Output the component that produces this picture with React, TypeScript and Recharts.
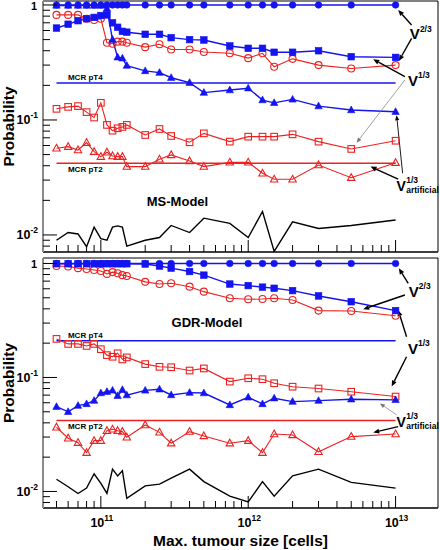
import React from 'react';
import { LineChart, Line, XAxis, YAxis, ReferenceLine, ReferenceDot, ReferenceArea } from 'recharts';

// ---------- data ----------
const tumourSizes = [5e10, 6e10, 7e10, 8e10, 9e10, 1e11, 1.1e11, 1.2e11, 1.3e11, 1.4e11, 1.5e11, 2e11, 2.5e11, 3e11, 4e11, 5e11, 7.5e11, 1e12, 1.25e12, 1.5e12, 2e12, 3e12, 5e12, 1e13];

// MS-Model
const msV23pT4 = [1, 1, 1, 1, 1, 1, 1, 1, 1, 1, 1, 1, 1, 1, 1, 1, 1, 1, 1, 1, 1, 1, 1, 1];
const msV23pT2 = [0.82, 0.82, 0.82, 0.76, 0.74, 0.76, 0.47, 0.46, 0.48, 0.48, 0.47, 0.43, 0.455, 0.41, 0.41, 0.39, 0.38, 0.345, 0.38, 0.29, 0.34, 0.3, 0.28, 0.3];
const msV13pT4 = [0.63, 0.68, 0.73, 0.76, 0.78, 0.81, 0.82, 0.7, 0.64, 0.59, 0.58, 0.556, 0.556, 0.52, 0.5, 0.496, 0.44, 0.42, 0.42, 0.388, 0.388, 0.4, 0.355, 0.35];
const msV13pT2 = [0.125, 0.13, 0.132, 0.117, 0.105, 0.141, 0.0906, 0.0807, 0.0847, 0.087, 0.0906, 0.074, 0.0835, 0.0726, 0.064, 0.0765, 0.0648, 0.0716, 0.0716, 0.0716, 0.075, 0.0648, 0.056, 0.066];
const msArtPT4 = [0.99, 0.99, 0.99, 0.99, 0.99, 0.99, 0.93, 0.5, 0.351, 0.344, 0.297, 0.267, 0.258, 0.233, 0.211, 0.173, 0.182, 0.189, 0.149, 0.141, 0.151, 0.132, 0.122, 0.118];
const msArtPT2 = [0.0567, 0.0586, 0.0548, 0.0635, 0.053, 0.048, 0.0524, 0.0486, 0.048, 0.048, 0.0393, 0.0393, 0.0455, 0.0497, 0.044, 0.0393, 0.0428, 0.0428, 0.0344, 0.0305, 0.0305, 0.0406, 0.0315, 0.0425];
const msBlack = [0.009, 0.0105, 0.0102, 0.0079, 0.0117, 0.0093, 0.009, 0.0117, 0.012, 0.0117, 0.008, 0.009, 0.0095, 0.0121, 0.0105, 0.014, 0.0126, 0.0095, 0.016, 0.0072, 0.013, 0.0114, 0.0121, 0.0135];

// GDR-Model
const gdrV23pT4 = [1, 1, 1, 1, 1, 1, 1, 1, 1, 1, 1, 1, 1, 1, 1, 1, 1, 1, 1, 1, 1, 1, 1, 1];
const gdrV23pT2 = [0.95, 0.94, 0.91, 0.895, 0.877, 0.86, 0.81, 0.84, 0.82, 0.79, 0.777, 0.69, 0.66, 0.67, 0.626, 0.566, 0.495, 0.485, 0.488, 0.495, 0.478, 0.386, 0.383, 0.348];
const gdrV13pT4 = [0.995, 0.995, 0.995, 0.995, 0.995, 0.995, 0.995, 0.995, 0.995, 0.995, 0.995, 0.99, 0.95, 0.91, 0.85, 0.79, 0.66, 0.64, 0.62, 0.606, 0.578, 0.519, 0.462, 0.386];
const gdrV13pT2 = [0.218, 0.197, 0.197, 0.189, 0.197, 0.177, 0.157, 0.152, 0.163, 0.144, 0.15, 0.131, 0.124, 0.123, 0.115, 0.12, 0.092, 0.0984, 0.0966, 0.089, 0.083, 0.08, 0.075, 0.068];
const gdrArtPT4 = [0.0554, 0.05, 0.0566, 0.0586, 0.0626, 0.073, 0.075, 0.077, 0.069, 0.078, 0.07, 0.077, 0.0788, 0.0702, 0.0736, 0.073, 0.0574, 0.067, 0.0586, 0.0658, 0.0614, 0.0626, 0.0644, 0.0636];
const gdrArtPT2 = [0.0366, 0.0293, 0.0268, 0.0219, 0.0279, 0.0279, 0.0341, 0.0351, 0.0341, 0.0335, 0.0299, 0.0383, 0.033, 0.0265, 0.0335, 0.0307, 0.0265, 0.0279, 0.0219, 0.0319, 0.0313, 0.0223, 0.0303, 0.0319];
const gdrBlack = [0.0128, 0.011, 0.0096, 0.0107, 0.0143, 0.0118, 0.0096, 0.0157, 0.0137, 0.0152, 0.0087, 0.0112, 0.0116, 0.0131, 0.0157, 0.0122, 0.0091, 0.0081, 0.0122, 0.0091, 0.0137, 0.0157, 0.012, 0.0107];

// MCR reference levels and their x-extent
const mcrPT4 = 0.21;
const mcrPT2 = 0.042;
const mcrRange = [5e10, 1e13];

// axes
const xDomain = [4.05e10, 1.94e13];
const topYDomain = [0.00711, 1.083];
const botYDomain = [0.00716, 1.117];
const xTicks = [5e10, 6e10, 7e10, 8e10, 9e10, 1e11, 2e11, 3e11, 4e11, 5e11, 6e11, 7e11, 8e11, 9e11, 1e12, 2e12, 3e12, 4e12, 5e12, 6e12, 7e12, 8e12, 9e12, 1e13];
const yTicks = [0.008, 0.009, 0.01, 0.02, 0.03, 0.04, 0.05, 0.06, 0.07, 0.08, 0.09, 0.1, 0.2, 0.3, 0.4, 0.5, 0.6, 0.7, 0.8, 0.9, 1];

const yTitle = 'Probability';
const xTitle = 'Max. tumour size [cells]';

// ---------- styling ----------
const FONT = '"Liberation Sans", Arial, Helvetica, sans-serif';
const BLUE = '#1414f0';
const RED = '#ec2222';
const GRAY_AXIS = '#8a8a8a';

const isDecade = (v: number) => Math.abs(Math.log10(v) - Math.round(Math.log10(v))) < 1e-6;

const buildRows = (c4: number[], c2: number[], s4: number[], s2: number[], t4: number[], t2: number[], k: number[]) =>
  tumourSizes.map((x, i) => ({ x, c4: c4[i], c2: c2[i], s4: s4[i], s2: s2[i], t4: t4[i], t2: t2[i], k: k[i] }));

const msRows = buildRows(msV23pT4, msV23pT2, msV13pT4, msV13pT2, msArtPT4, msArtPT2, msBlack);
const gdrRows = buildRows(gdrV23pT4, gdrV23pT2, gdrV13pT4, gdrV13pT2, gdrArtPT4, gdrArtPT2, gdrBlack);

function markerRenderer(kind: 'circle' | 'square' | 'triangle', color: string, filled: boolean) {
  return (p: any) => {
    const { cx, cy, index } = p;
    const key = `m-${kind}-${color}-${filled}-${index}`;
    if (typeof cx !== 'number' || typeof cy !== 'number' || isNaN(cx) || isNaN(cy)) return <g key={key} />;
    const fill = filled ? color : 'none';
    const sw = filled ? 0.6 : 1.1;
    if (kind === 'circle') {
      return <circle key={key} cx={cx} cy={cy} r={filled ? 3.3 : 3.5} fill={fill} stroke={color} strokeWidth={sw} />;
    }
    if (kind === 'square') {
      const h = 3.3;
      return <rect key={key} x={cx - h} y={cy - h} width={2 * h} height={2 * h} fill={fill} stroke={color} strokeWidth={sw} />;
    }
    const w = 3.7;
    const up = 4.0;
    const dn = 2.7;
    return (
      <polygon
        key={key}
        points={`${cx},${cy - up} ${cx + w},${cy + dn} ${cx - w},${cy + dn}`}
        fill={fill}
        stroke={color}
        strokeWidth={sw}
        strokeLinejoin="miter"
      />
    );
  };
}

function arrowShape(color: string, width: number, head: number) {
  return (p: any) => {
    const { x1, y1, x2, y2 } = p;
    if ([x1, y1, x2, y2].some((v) => typeof v !== 'number' || isNaN(v))) return <g />;
    const a = Math.atan2(y2 - y1, x2 - x1);
    const bx = x2 - head * Math.cos(a);
    const by = y2 - head * Math.sin(a);
    const w = head * 0.42;
    const px = -Math.sin(a) * w;
    const py = Math.cos(a) * w;
    return (
      <g>
        <line x1={x1} y1={y1} x2={bx} y2={by} stroke={color} strokeWidth={width} />
        <polygon points={`${x2},${y2} ${bx + px},${by + py} ${bx - px},${by - py}`} fill={color} />
      </g>
    );
  };
}

function vLabel(exp: string, sub?: string) {
  return (p: any) => {
    const { cx, cy } = p;
    if (typeof cx !== 'number' || typeof cy !== 'number') return <g />;
    if (sub) {
      return (
        <text x={cx} y={cy} fontFamily={FONT} fontWeight="bold" fill="#000">
          <tspan fontSize={14}>V</tspan>
          <tspan x={cx + 9.6} dy={-8} fontSize={8.5}>{exp}</tspan>
          <tspan x={cx + 9.6} dy={10.8} fontSize={8.5}>{sub}</tspan>
        </text>
      );
    }
    return (
      <text x={cx} y={cy} fontFamily={FONT} fontWeight="bold" fill="#000">
        <tspan fontSize={15}>V</tspan>
        <tspan dy={-7.5} fontSize={8.5}>{exp}</tspan>
      </text>
    );
  };
}

function plainLabel(text: string, size: number) {
  return (p: any) => {
    const { cx, cy } = p;
    if (typeof cx !== 'number' || typeof cy !== 'number') return <g />;
    return (
      <text x={cx} y={cy} fontFamily={FONT} fontWeight="bold" fontSize={size} fill="#000">
        {text}
      </text>
    );
  };
}

function XTick(props: any) {
  const { x, y, payload, showLabel } = props;
  const v = payload && payload.value;
  if (typeof v !== 'number') return <g />;
  const major = isDecade(v);
  const len = major ? 12 : 7;
  const exp = Math.round(Math.log10(v));
  return (
    <g>
      <line x1={x} x2={x} y1={y} y2={y - len} stroke="#000" strokeWidth={1} />
      {showLabel && major ? (
        <text x={x + 1} y={y + 19} textAnchor="middle" fontFamily={FONT} fontWeight="bold" fontSize={12.5} fill="#000">
          10
          <tspan dy={-6} fontSize={8.5}>{exp}</tspan>
        </text>
      ) : null}
    </g>
  );
}

function YTick(props: any) {
  const { x, y, payload } = props;
  const v = payload && payload.value;
  if (typeof v !== 'number') return <g />;
  const major = isDecade(v);
  const len = major ? 14 : 7;
  const exp = Math.round(Math.log10(v));
  let label: React.ReactNode = null;
  if (major) {
    label =
      exp === 0 ? (
        <text x={x - 6} y={y + 4.6} textAnchor="end" fontFamily={FONT} fontWeight="bold" fontSize={11} fill="#000">
          1
        </text>
      ) : (
        <text x={x - 5} y={y + 4.5} textAnchor="end" fontFamily={FONT} fontWeight="bold" fontSize={12.5} fill="#000">
          10
          <tspan dy={-6} fontSize={8.5}>{'-' + Math.abs(exp)}</tspan>
        </text>
      );
  }
  return (
    <g>
      <line x1={x} x2={x + len} y1={y} y2={y} stroke="#000" strokeWidth={1} />
      {label}
    </g>
  );
}

function YTitle(props: any) {
  const vb = props.viewBox || {};
  const cy = (vb.y || 0) + (vb.height || 0) / 2;
  return (
    <text
      transform={`translate(13.5, ${cy}) rotate(-90)`}
      textAnchor="middle"
      fontFamily={FONT}
      fontWeight="bold"
      fontSize={15.5}
      fill="#000"
    >
      {yTitle}
    </text>
  );
}

function XTitle(props: any) {
  const vb = props.viewBox || {};
  const cx = (vb.x || 0) + (vb.width || 0) / 2;
  return (
    <text x={cx} y={(vb.y || 0) + 37.5} textAnchor="middle" fontFamily={FONT} fontWeight="bold" fontSize={15.5} fill="#000">
      {xTitle}
    </text>
  );
}

type Arrow = { from: [number, number]; to: [number, number]; color: string; width: number; head: number };
type Note = { x: number; y: number; render: (p: any) => React.ReactElement };

// annotations (data coordinates)
const msArrows: Arrow[] = [
  { from: [1.284e13, 0.67], to: [1.041e13, 0.905], color: '#000', width: 1.4, head: 6 },
  { from: [1.284e13, 0.513], to: [1.052e13, 0.326], color: '#000', width: 1.4, head: 6 },
  { from: [1.156e13, 0.238], to: [7.05e12, 0.337], color: '#000', width: 1.4, head: 6 },
  { from: [1.156e13, 0.223], to: [5.44e12, 0.0634], color: '#777', width: 0.7, head: 5 },
  { from: [1.116e13, 0.0344], to: [1.016e13, 0.11], color: '#000', width: 0.9, head: 5 },
  { from: [1.041e13, 0.0306], to: [6.76e12, 0.0393], color: '#000', width: 1.4, head: 6 },
];
const gdrArrows: Arrow[] = [
  { from: [1.218e13, 0.67], to: [1.052e13, 0.908], color: '#000', width: 1.4, head: 6 },
  { from: [1.156e13, 0.529], to: [6.03e12, 0.397], color: '#000', width: 1.4, head: 6 },
  { from: [1.187e13, 0.228], to: [1.041e13, 0.391], color: '#000', width: 1.4, head: 6 },
  { from: [1.187e13, 0.152], to: [9.4e12, 0.0833], color: '#000', width: 1.4, head: 6 },
  { from: [1.016e13, 0.047], to: [7.83e12, 0.0592], color: '#777', width: 0.7, head: 5 },
  { from: [1.041e13, 0.037], to: [7.05e12, 0.0329], color: '#000', width: 1.4, head: 6 },
];
const msNotes: Note[] = [
  { x: 5.98e10, y: 0.223, render: plainLabel('MCR pT4', 8) },
  { x: 5.98e10, y: 0.0355, render: plainLabel('MCR pT2', 8) },
  { x: 2.05e11, y: 0.0179, render: plainLabel('MS-Model', 13) },
  { x: 1.25e13, y: 0.501, render: vLabel('2/3') },
  { x: 1.212e13, y: 0.1976, render: vLabel('1/3') },
  { x: 1.016e13, y: 0.0243, render: vLabel('1/3', 'artificial') },
];
const gdrNotes: Note[] = [
  { x: 5.98e10, y: 0.222, render: plainLabel('MCR pT4', 8) },
  { x: 5.98e10, y: 0.0353, render: plainLabel('MCR pT2', 8) },
  { x: 3.02e11, y: 0.2773, render: plainLabel('GDR-Model', 13) },
  { x: 1.23e13, y: 0.5114, render: vLabel('2/3') },
  { x: 1.212e13, y: 0.1607, render: vLabel('1/3') },
  { x: 1.016e13, y: 0.037, render: vLabel('1/3', 'artificial') },
];

type PanelProps = {
  rows: any[];
  yDomain: number[];
  height: number;
  marginTop: number;
  xAxisHeight: number;
  bottom: boolean;
  arrows: Arrow[];
  notes: Note[];
};

function Panel({ rows, yDomain, height, marginTop, xAxisHeight, bottom, arrows, notes }: PanelProps) {
  return (
    <LineChart width={440} height={height} data={rows} margin={{ top: marginTop, right: 2, bottom: 0, left: 0 }}>
      <ReferenceArea
        x1={xDomain[0]}
        x2={xDomain[1]}
        y1={yDomain[0]}
        y2={yDomain[1]}
        fill="none"
        fillOpacity={0}
        stroke="#000"
        strokeWidth={1}
        ifOverflow="visible"
      />
      <XAxis
        dataKey="x"
        type="number"
        scale="log"
        domain={xDomain}
        allowDataOverflow
        ticks={xTicks}
        interval={0}
        height={xAxisHeight}
        tickLine={false}
        tickSize={0}
        tickMargin={0}
        axisLine={{ stroke: '#000', strokeWidth: 1 }}
        tick={(p: any) => <XTick {...p} showLabel={bottom} />}
        label={bottom ? { content: (p: any) => <XTitle {...p} /> } : undefined}
      />
      <YAxis
        type="number"
        scale="log"
        domain={yDomain}
        allowDataOverflow
        ticks={yTicks}
        interval={0}
        width={43}
        tickLine={false}
        tickSize={0}
        tickMargin={0}
        axisLine={{ stroke: GRAY_AXIS, strokeWidth: 2 }}
        tick={(p: any) => <YTick {...p} />}
        label={{ content: (p: any) => <YTitle {...p} /> }}
      />
      <ReferenceLine
        segment={[
          { x: mcrRange[0], y: mcrPT4 },
          { x: mcrRange[1], y: mcrPT4 },
        ]}
        stroke={BLUE}
        strokeWidth={1.5}
        ifOverflow="visible"
      />
      <ReferenceLine
        segment={[
          { x: mcrRange[0], y: mcrPT2 },
          { x: mcrRange[1], y: mcrPT2 },
        ]}
        stroke={RED}
        strokeWidth={1.5}
        ifOverflow="visible"
      />
      <Line dataKey="k" type="linear" stroke="#000" strokeWidth={1.4} dot={false} activeDot={false} isAnimationActive={false} />
      <Line dataKey="t2" type="linear" stroke={RED} strokeWidth={1.1} dot={markerRenderer('triangle', RED, false)} activeDot={false} isAnimationActive={false} />
      <Line dataKey="s2" type="linear" stroke={RED} strokeWidth={1.1} dot={markerRenderer('square', RED, false)} activeDot={false} isAnimationActive={false} />
      <Line dataKey="c2" type="linear" stroke={RED} strokeWidth={1.1} dot={markerRenderer('circle', RED, false)} activeDot={false} isAnimationActive={false} />
      <Line dataKey="t4" type="linear" stroke={BLUE} strokeWidth={1.4} dot={markerRenderer('triangle', BLUE, true)} activeDot={false} isAnimationActive={false} />
      <Line dataKey="s4" type="linear" stroke={BLUE} strokeWidth={1.4} dot={markerRenderer('square', BLUE, true)} activeDot={false} isAnimationActive={false} />
      <Line dataKey="c4" type="linear" stroke={BLUE} strokeWidth={1.4} dot={markerRenderer('circle', BLUE, true)} activeDot={false} isAnimationActive={false} />
      {arrows.map((a, i) => (
        <ReferenceLine
          key={`arrow-${i}`}
          segment={[
            { x: a.from[0], y: a.from[1] },
            { x: a.to[0], y: a.to[1] },
          ]}
          stroke={a.color}
          ifOverflow="visible"
          shape={arrowShape(a.color, a.width, a.head)}
        />
      ))}
      {notes.map((n, i) => (
        <ReferenceDot key={`note-${i}`} x={n.x} y={n.y} r={0} ifOverflow="visible" shape={n.render} />
      ))}
    </LineChart>
  );
}

export default function App() {
  return (
    <div style={{ position: 'absolute', left: 0, top: 0, width: 440, height: 550, background: '#fff', overflow: 'hidden' }}>
      <div style={{ position: 'absolute', left: 0, top: 0 }}>
        <Panel rows={msRows} yDomain={topYDomain} height={256} marginTop={1} xAxisHeight={4} bottom={false} arrows={msArrows} notes={msNotes} />
      </div>
      <div style={{ position: 'absolute', left: 0, top: 256 }}>
        <Panel rows={gdrRows} yDomain={botYDomain} height={294} marginTop={2} xAxisHeight={42} bottom={true} arrows={gdrArrows} notes={gdrNotes} />
      </div>
    </div>
  );
}
